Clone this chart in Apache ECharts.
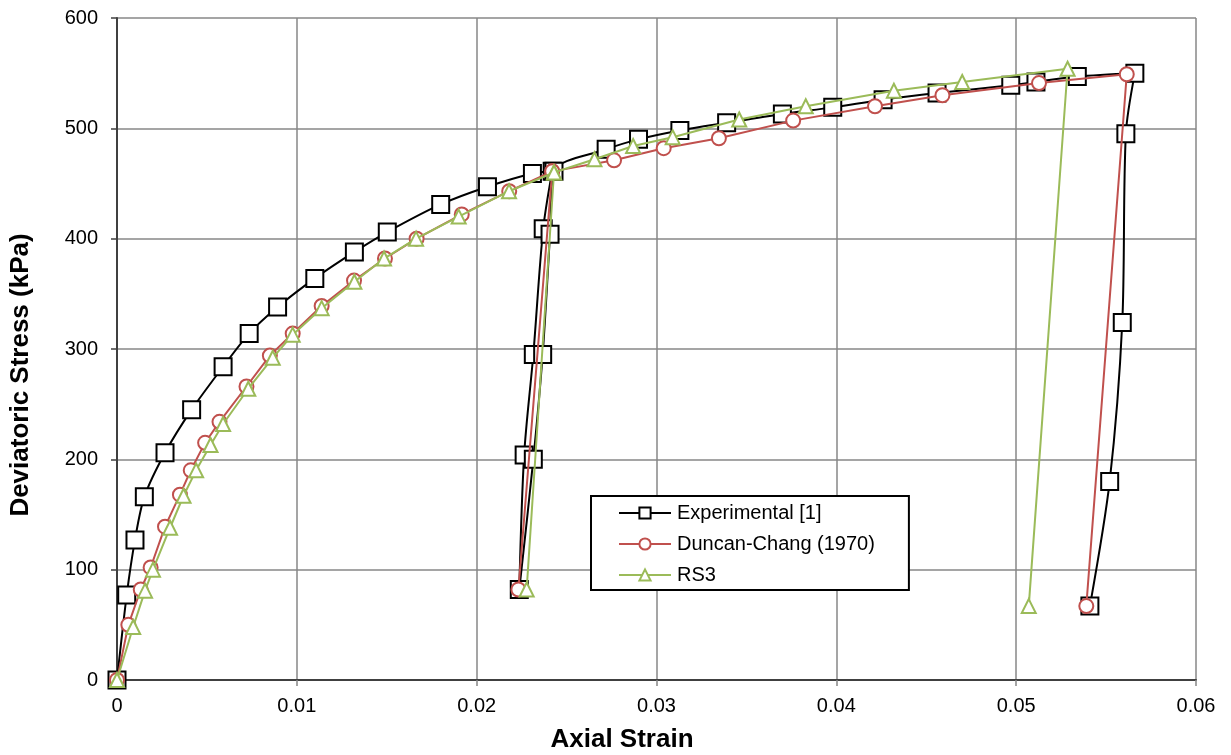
<!DOCTYPE html>
<html>
<head>
<meta charset="utf-8">
<script src="https://cdn.jsdelivr.net/npm/echarts@6/dist/echarts.min.js"></script>
<style>
html,body{margin:0;padding:0;background:#fff;}
#chart{width:1231px;height:755px;}
</style>
</head>
<body>
<div id="chart"></div>
<script>
const seriesNames = ['Experimental [1]', 'Duncan-Chang (1970)', 'RS3'];
const xTitle = 'Axial Strain';
const yTitle = 'Deviatoric Stress (kPa)';

const expStrain = [0, 0.00054, 0.0010, 0.00152, 0.00267, 0.00415, 0.0059, 0.00735, 0.00893, 0.0110, 0.0132, 0.01503, 0.0180, 0.0206, 0.0231, 0.0242, 0.0237, 0.02315, 0.02264, 0.02237, 0.02315, 0.02367, 0.02408, 0.0243, 0.0272, 0.0290, 0.0313, 0.0339, 0.0370, 0.0398, 0.0426, 0.0456, 0.0497, 0.0511, 0.0534, 0.0566, 0.0561, 0.0559, 0.0552, 0.0541];
const expStress = [0, 77, 127, 166, 206, 245, 284, 314, 338, 364, 388, 406, 431, 447, 459, 461, 409, 295, 204, 82, 200, 295, 404, 461, 481, 490, 498, 505, 513, 519, 526, 532, 539, 542, 547, 550, 495, 324, 180, 67];

const dcStrain = [0, 0.00063, 0.00132, 0.00187, 0.00267, 0.0035, 0.0041, 0.0049, 0.0057, 0.0072, 0.0085, 0.00977, 0.01138, 0.01318, 0.0149, 0.01666, 0.01917, 0.02181, 0.0242, 0.02232, 0.0242, 0.02764, 0.0304, 0.03347, 0.0376, 0.04215, 0.0459, 0.05127, 0.05615, 0.0539];
const dcStress = [0, 50, 82, 102, 139, 168, 190, 215, 234, 266, 294, 314, 339, 362, 382, 400, 422, 443, 461, 82, 461, 471, 482, 491, 507, 520, 530, 541, 549, 67];

const rsStrain = [0, 0.0009, 0.00156, 0.0020, 0.00295, 0.0037, 0.0044, 0.0052, 0.0059, 0.0073, 0.00866, 0.00977, 0.01138, 0.0132, 0.01485, 0.01663, 0.0190, 0.0218, 0.0243, 0.02278, 0.0243, 0.02655, 0.0287, 0.0309, 0.0346, 0.0383, 0.0432, 0.0470, 0.05286, 0.0507];
const rsStress = [0, 48, 81, 100, 138, 167, 190, 213, 232, 264, 292, 313, 337, 361, 382, 400, 420, 443, 460, 82, 460, 472, 484, 492, 508, 520, 534, 542, 554, 67];

const xTicks = [0, 0.01, 0.02, 0.03, 0.04, 0.05, 0.06];
const yTicks = [0, 100, 200, 300, 400, 500, 600];

function pairs(xs, ys) { return xs.map((x, i) => [x, ys[i]]); }

const gridColor = '#878787';
const axisColor = '#404040';
const font = 'Liberation Sans, Arial, sans-serif';

const chart = echarts.init(document.getElementById('chart'), null, {renderer: 'canvas'});
chart.setOption({
  animation: false,
  backgroundColor: '#fff',
  grid: {left: 117, right: 35, top: 18, bottom: 75, containLabel: false},
  graphic: [
    {type: 'text', x: 622, y: 740,
      style: {text: xTitle, font: 'bold 26px Liberation Sans, Arial, sans-serif', fill: '#000', align: 'center', verticalAlign: 'middle'}},
    {type: 'text', x: 21, y: 375, rotation: Math.PI / 2,
      style: {text: yTitle, font: 'bold 26px Liberation Sans, Arial, sans-serif', fill: '#000', align: 'center', verticalAlign: 'middle'}}
  ],
  xAxis: {
    type: 'value',
    min: xTicks[0], max: xTicks[xTicks.length - 1], interval: 0.01,
    axisLine: {show: true, onZero: false, lineStyle: {color: axisColor, width: 2}},
    axisTick: {show: true, inside: false, length: 6, lineStyle: {color: gridColor, width: 1.5}},
    axisLabel: {fontFamily: font, fontSize: 20, color: '#000', margin: 16,
      formatter: v => v === 0 ? '0' : String(+v.toFixed(2))},
    splitLine: {show: true, lineStyle: {color: gridColor, width: 1.5}}
  },
  yAxis: {
    type: 'value',
    min: yTicks[0], max: yTicks[yTicks.length - 1], interval: 100,
    axisLine: {show: true, onZero: false, lineStyle: {color: axisColor, width: 2}},
    axisTick: {show: true, inside: false, length: 6, lineStyle: {color: axisColor, width: 1.5}},
    axisLabel: {fontFamily: font, fontSize: 20, color: '#000', margin: 19},
    splitLine: {show: true, lineStyle: {color: gridColor, width: 1.5}}
  },
  legend: {
    orient: 'vertical',
    left: 591, top: 496,
    padding: [7, 34, 5, 27],
    itemGap: 11, itemWidth: 52, itemHeight: 14,
    borderColor: '#000', borderWidth: 2, backgroundColor: '#fff',
    textStyle: {fontFamily: font, fontSize: 20, lineHeight: 20, color: '#000', padding: [0, 0, 0, 1]},
    data: seriesNames
  },
  series: [
    {
      name: seriesNames[1], type: 'line', data: pairs(dcStrain, dcStress),
      color: '#C0504D', smooth: false,
      symbol: 'emptyCircle', symbolSize: 14,
      lineStyle: {width: 2, color: '#C0504D'},
      itemStyle: {color: '#C0504D', borderWidth: 1.5, borderColor: '#C0504D'},
      z: 3
    },
    {
      name: seriesNames[2], type: 'line', data: pairs(rsStrain, rsStress),
      color: '#9BBB59', smooth: false,
      symbol: 'emptyTriangle', symbolSize: 14,
      lineStyle: {width: 2, color: '#9BBB59'},
      itemStyle: {color: '#9BBB59', borderWidth: 1.5, borderColor: '#9BBB59'},
      z: 4
    },
    {
      name: seriesNames[0], type: 'line', data: pairs(expStrain, expStress),
      color: '#000', smooth: 0.3,
      symbol: 'emptyRect', symbolSize: 17,
      lineStyle: {width: 2, color: '#000'},
      itemStyle: {color: '#000', borderWidth: 1.5, borderColor: '#000'},
      z: 2
    }
  ]
});
</script>
</body>
</html>
